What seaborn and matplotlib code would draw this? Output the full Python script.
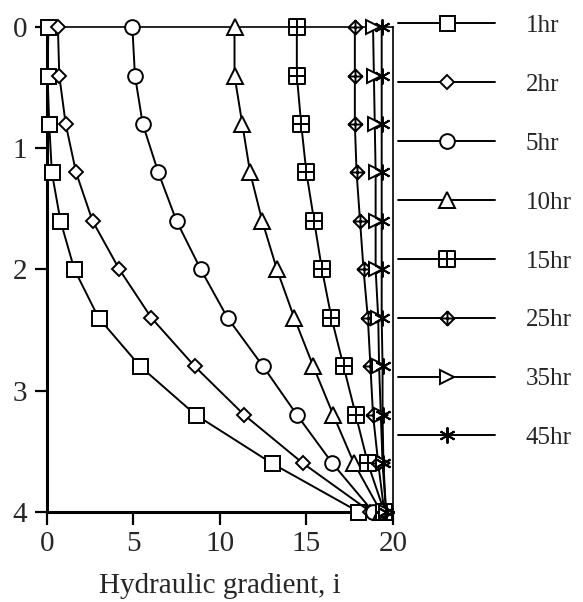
import numpy as np
import pandas as pd
import matplotlib
matplotlib.use("Agg")
import matplotlib.pyplot as plt
from matplotlib.path import Path
import seaborn as sns

depth = [0.0, 0.4, 0.8, 1.2, 1.6, 2.0, 2.4, 2.8, 3.2, 3.6, 4.0]
labels = ["1hr", "2hr", "5hr", "10hr", "15hr", "25hr", "35hr", "45hr"]
g_1hr = [0.1, 0.05, 0.15, 0.3, 0.8, 1.6, 3.0, 5.4, 8.6, 13.0, 18.0]
g_2hr = [0.65, 0.73, 1.1, 1.7, 2.65, 4.2, 6.05, 8.55, 11.4, 14.8, 18.7]
g_5hr = [4.95, 5.1, 5.55, 6.45, 7.5, 8.9, 10.45, 12.5, 14.45, 16.5, 18.85]
g_10hr = [10.85, 10.85, 11.3, 11.75, 12.45, 13.3, 14.3, 15.4, 16.55, 17.75, 19.3]
g_15hr = [14.45, 14.45, 14.7, 15.0, 15.45, 15.9, 16.45, 17.15, 17.85, 18.55, 19.5]
g_25hr = [17.8, 17.8, 17.8, 17.9, 18.1, 18.3, 18.55, 18.7, 18.85, 19.15, 19.5]
g_35hr = [18.85, 18.9, 18.95, 19.0, 19.0, 19.0, 19.15, 19.2, 19.3, 19.4, 19.6]
g_45hr = [19.35, 19.35, 19.35, 19.35, 19.35, 19.35, 19.35, 19.4, 19.4, 19.45, 19.6]
series = [g_1hr, g_2hr, g_5hr, g_10hr, g_15hr, g_25hr, g_35hr, g_45hr]

sq_plus = Path([(-1, -1), (1, -1), (1, 1), (-1, 1), (-1, -1),
                (0, -1), (0, 1), (-1, 0), (1, 0)],
               [Path.MOVETO, Path.LINETO, Path.LINETO, Path.LINETO, Path.CLOSEPOLY,
                Path.MOVETO, Path.LINETO, Path.MOVETO, Path.LINETO])
dia_plus = Path([(0, -1), (1, 0), (0, 1), (-1, 0), (0, -1),
                 (0, -1), (0, 1), (-1, 0), (1, 0)],
                [Path.MOVETO, Path.LINETO, Path.LINETO, Path.LINETO, Path.CLOSEPOLY,
                 Path.MOVETO, Path.LINETO, Path.MOVETO, Path.LINETO])
markers = ["s", "D", "o", "^", sq_plus, dia_plus, ">", (6, 2, 0)]
msizes = [10.8, 7.3, 10.6, 11, 11, 10, 10.5, 11.5]

sns.set_style("ticks")
plt.rcParams["font.family"] = ["Liberation Serif", "DejaVu Serif"]

FS = 21
LFS = 18
fig = plt.figure(figsize=(5.83, 6.02), dpi=100)
ax = fig.add_axes([0.080, 0.150, 0.594, 0.805])

for lab, vals, m, ms in zip(labels, series, markers, msizes):
    df = pd.DataFrame({"gradient": vals, "depth": depth})
    sns.lineplot(data=df, x="gradient", y="depth", ax=ax, orient="y", sort=False,
                 estimator=None, color="black", linewidth=1.4, marker=m,
                 markersize=ms, markerfacecolor="white", markeredgecolor="black",
                 markeredgewidth=1.4, clip_on=False, label=lab)

ax.set_xlim(0, 20)
ax.set_ylim(4, 0)
ax.set_xticks([0, 5, 10, 15, 20])
ax.set_yticks([0, 1, 2, 3, 4])
ax.set_xlabel("Hydraulic gradient, i", fontsize=FS, labelpad=11.5)
ax.set_ylabel("")
ax.tick_params(axis="both", labelsize=FS, length=9, width=1.6, direction="out",
               color="black", pad=5)
for side in ["left", "bottom"]:
    ax.spines[side].set_linewidth(2.2)
for side in ["top", "right"]:
    ax.spines[side].set_linewidth(1.2)
for s in ax.spines.values():
    s.set_color("black")
    s.set_zorder(0.5)

handles, labs = ax.get_legend_handles_labels()
ax.get_legend().remove()
fig.legend(handles, labs, loc="upper left", bbox_to_anchor=(0.683, 0.976),
           frameon=False, fontsize=LFS, handlelength=3.88, handletextpad=1.22,
           labelspacing=1.456, borderpad=0, borderaxespad=0, numpoints=1)

fig.savefig("out.png", dpi=100)
